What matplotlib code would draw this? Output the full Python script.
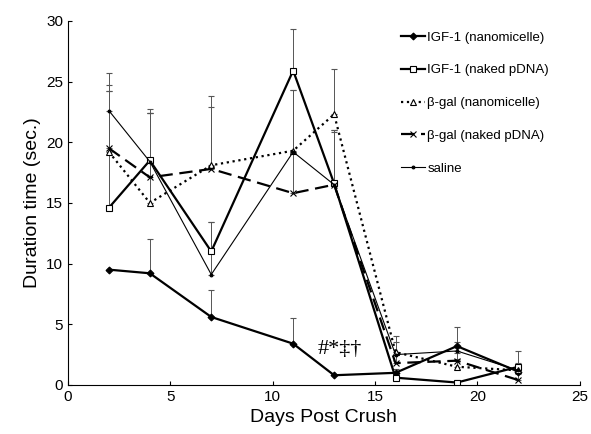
import matplotlib.pyplot as plt
import numpy as np

plt.rcParams['font.family'] = ['Liberation Sans', 'DejaVu Sans']

days = [2, 4, 7, 11, 13, 16, 19, 22]

igf_nano = [9.5, 9.2, 5.6, 3.4, 0.8, 1.0, 3.2, 1.1]
igf_nano_err = [0, 2.8, 2.2, 2.1, 0, 0.3, 1.6, 0.5]

igf_naked = [14.6, 18.5, 11.0, 25.9, 16.6, 0.6, 0.2, 1.5]
igf_naked_err = [11.1, 4.2, 2.4, 3.4, 4.4, 0.4, 0.2, 1.3]

bgal_nano = [19.2, 15.0, 18.1, 19.3, 22.3, 2.7, 1.5, 1.2]
bgal_nano_err = [5.0, 7.4, 5.7, 5.0, 3.7, 1.3, 0.6, 0.4]

bgal_naked = [19.5, 17.1, 17.8, 15.8, 16.5, 1.8, 2.0, 0.4]
bgal_naked_err = [4.7, 5.3, 5.1, 3.4, 4.5, 0.9, 0.6, 0.5]

saline = [22.6, 18.4, 9.1, 19.2, 16.5, 2.5, 2.8, 1.2]
saline_err = [2.1, 4.0, 4.3, 5.1, 4.3, 1.0, 0.7, 0.6]

fig = plt.figure(figsize=(5.91, 4.34), dpi=100)
ax = fig.add_axes([0.115, 0.113, 0.866, 0.839])

handles = []
labels = []
def draw(y, err, label, ls, lw, marker, ms, mfc):
    cont = ax.errorbar(days, y, yerr=[np.zeros(len(err)), err], color='black', ls=ls, lw=lw,
                       marker=marker, ms=ms, mfc=mfc, mec='black', mew=0.8,
                       ecolor='#555555', elinewidth=0.7, capsize=2, capthick=0.7)
    handles.append(cont.lines[0])
    labels.append(label)

draw(igf_nano, igf_nano_err, 'IGF-1 (nanomicelle)', '-', 1.6, 'D', 3.5, 'black')
draw(igf_naked, igf_naked_err, 'IGF-1 (naked pDNA)', '-', 1.6, 's', 5, 'white')
draw(bgal_nano, bgal_nano_err, '\u03b2-gal (nanomicelle)', ':', 1.6, '^', 5, 'white')
draw(bgal_naked, bgal_naked_err, '\u03b2-gal (naked pDNA)', (0, (6, 3)), 1.6, 'x', 5, 'none')
draw(saline, saline_err, 'saline', '-', 0.8, '.', 4, 'black')

ax.text(12.2, 2.9, '#*\u2021\u2020', fontsize=16, family='Liberation Serif', va='center')

ax.set_xlim(0, 25)
ax.set_ylim(0, 30)
ax.set_xticks([0, 5, 10, 15, 20, 25])
ax.set_yticks([0, 5, 10, 15, 20, 25, 30])
ax.tick_params(direction='in', length=3, labelsize=11)
ax.spines['top'].set_visible(False)
ax.spines['right'].set_visible(False)
ax.set_xlabel('Days Post Crush', fontsize=14)
ax.set_ylabel('Duration time (sec.)', fontsize=14)

ax.legend(handles, labels, loc='upper left',
          bbox_to_anchor=(0.64, 0.985), frameon=False, fontsize=9.5,
          handlelength=1.8, handletextpad=0.2, labelspacing=1.55, borderaxespad=0)

fig.savefig('out.png', dpi=100)
